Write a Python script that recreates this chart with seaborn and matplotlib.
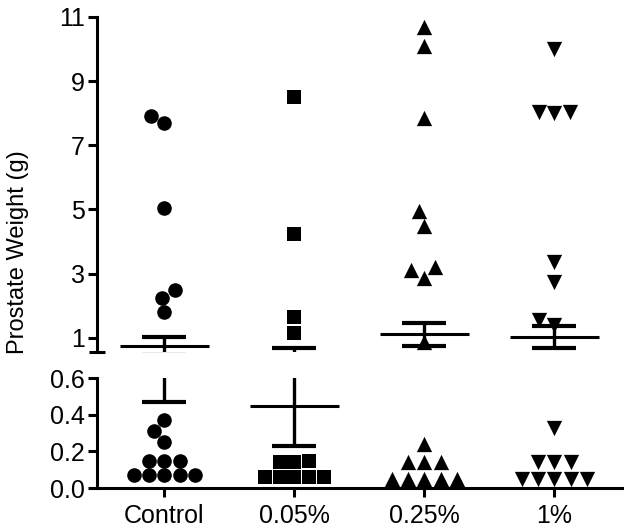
import matplotlib
matplotlib.use("Agg")
import matplotlib.pyplot as plt
import numpy as np
import pandas as pd
import seaborn as sns

# Prostate weight (g) per treatment group
groups = ["Control", "0.05%", "0.25%", "1%"]
control = [7.9, 7.7, 5.05, 2.5, 2.25, 1.8,
           0.37, 0.31, 0.25, 0.15, 0.15, 0.15, 0.07, 0.07, 0.07, 0.07, 0.07]
dose_005 = [8.5, 4.25, 1.65, 1.15,
            0.15, 0.14, 0.14, 0.06, 0.06, 0.06, 0.06, 0.06]
dose_025 = [10.7, 10.1, 7.85, 4.95, 4.5, 3.2, 3.1, 2.85, 0.87,
            0.24, 0.14, 0.14, 0.14, 0.05, 0.05, 0.05, 0.05, 0.05]
dose_1 = [10.0, 8.05, 8.0, 8.05, 3.35, 2.75, 1.55, 1.4,
          0.33, 0.14, 0.14, 0.14, 0.05, 0.05, 0.05, 0.05, 0.05]
means = [0.75, 0.45, 1.11, 1.02]
sems = [0.28, 0.22, 0.36, 0.35]

markers = ["o", "s", "^", "v"]
marker_sizes = [10.5, 10, 11, 11]

# axis break
upper_bottom = 0.56
lower_top = 0.6

sns.set_theme(style="ticks")
plt.rcParams["font.family"] = ["Liberation Sans", "DejaVu Sans"]

df = pd.DataFrame({
    "group": (["Control"] * len(control) + ["0.05%"] * len(dose_005)
              + ["0.25%"] * len(dose_025) + ["1%"] * len(dose_1)),
    "weight": control + dose_005 + dose_025 + dose_1,
})

fig = plt.figure(figsize=(6.29, 5.30), dpi=100)
ax_top = fig.add_axes([0.154, 0.336, 0.835, 0.632])
ax_bot = fig.add_axes([0.154, 0.079, 0.835, 0.2075])

parts = ((ax_top, df[df["weight"] >= lower_top]), (ax_bot, df[df["weight"] < lower_top]))
xs = np.arange(len(groups))
for ax, subset in parts:
    for i, g in enumerate(groups):
        sub = subset[subset["group"] == g]
        sns.swarmplot(data=sub, x="group", y="weight", order=groups, marker=markers[i],
                      size=marker_sizes[i], color="black", linewidth=0, ax=ax,
                      clip_on=False, warn_thresh=1)
    # mean with SEM
    ax.errorbar(xs, means, yerr=sems, fmt="none", ecolor="black", elinewidth=2.4,
                capsize=16, capthick=3.0, zorder=3)
    ax.hlines(means, xs - 0.345, xs + 0.345, color="black", linewidth=2.2, zorder=3)
    ax.set_xlim(-0.52, 3.52)
    ax.set_xlabel("")
    ax.set_ylabel("")
    for side in ("top", "right"):
        ax.spines[side].set_visible(False)
    for side in ("left", "bottom"):
        ax.spines[side].set_linewidth(2.2)
        ax.spines[side].set_color("black")
    ax.tick_params(axis="both", which="major", length=6.5, width=2.2, color="black",
                   labelsize=18, labelcolor="black", pad=2)

ax_top.set_ylim(upper_bottom, 11)
ax_top.spines["bottom"].set_visible(False)
ax_top.tick_params(axis="x", bottom=False, labelbottom=False)
ax_top.set_yticks([1, 3, 5, 7, 9, 11])
ax_top.set_yticks([upper_bottom], minor=True)
ax_top.tick_params(axis="y", which="minor", direction="inout", length=11, width=2.2,
                   color="black", labelleft=False)

ax_bot.set_ylim(0, lower_top)
ax_bot.set_yticks([0.0, 0.2, 0.4, 0.6])
ax_bot.set_yticklabels(["0.0", "0.2", "0.4", "0.6"])
ax_bot.set_xticks(xs)
ax_bot.set_xticklabels(groups)
ax_bot.tick_params(axis="x", pad=5)

fig.text(18 / 629, 1 - 252 / 530, "Prostate Weight (g)", rotation=90,
         ha="center", va="center", fontsize=17, color="black")

fig.savefig("out.png", dpi=100, facecolor="white")
